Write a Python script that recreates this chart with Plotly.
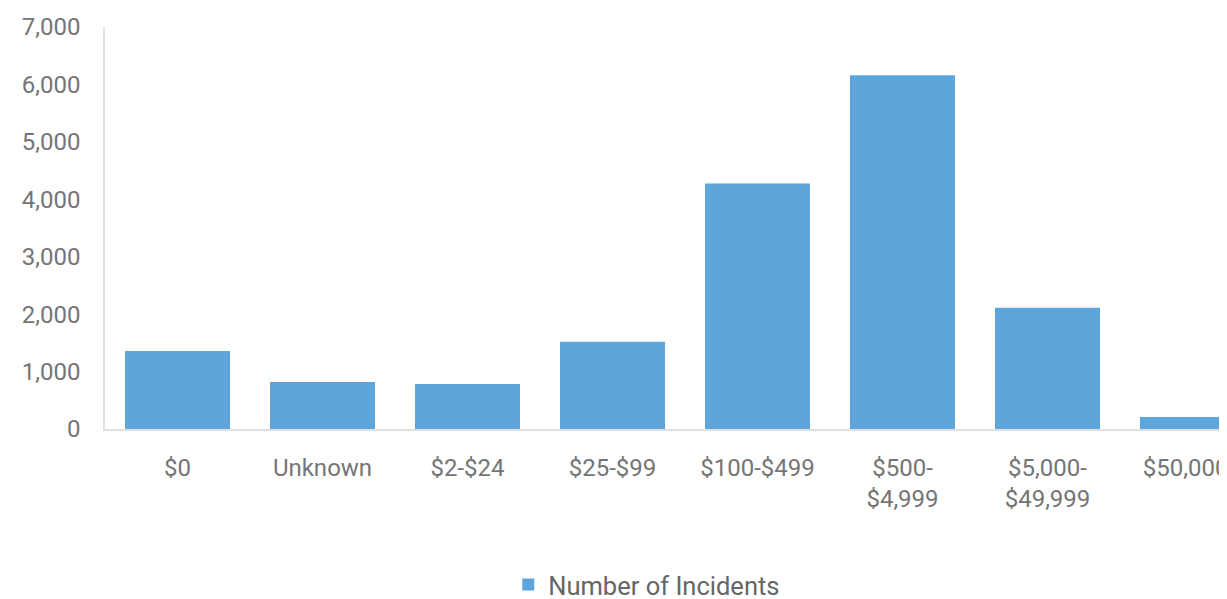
import plotly.graph_objects as go

categories = ["$0", "Unknown", "$2-$24", "$25-$99", "$100-$499",
              "$500-<br>$4,999", "$5,000-<br>$49,999", "$50,000+"]
incidents = [1360, 820, 785, 1520, 4275, 6160, 2110, 210]
series_name = "Number of Incidents"
y_ticks = [0, 1000, 2000, 3000, 4000, 5000, 6000, 7000]

fig = go.Figure()
fig.add_trace(go.Bar(
    x=categories, y=incidents, name=series_name,
    marker=dict(color="#5DA5DA", line=dict(width=0)),
    showlegend=True,
))

fig.update_layout(
    width=1219, height=591,
    margin=dict(l=97, r=0, t=19, b=170, autoexpand=False),
    paper_bgcolor="white", plot_bgcolor="white",
    font=dict(family="Roboto", size=24, color="#757575"),
    bargap=0.276,
    showlegend=True,
    legend=dict(orientation="h", xref="container", yref="container",
                x=0.524, xanchor="center", y=0.0237, yanchor="middle",
                font=dict(size=25.5, color="#666666")),
)
fig.update_xaxes(
    type="category", range=[-0.5, 7.238], automargin=False,
    showline=True, linecolor="#e0e0e0", linewidth=1.5,
    showgrid=False, ticks="", ticklabelstandoff=16,
    tickfont=dict(size=24, color="#757575"),
)
fig.update_yaxes(
    range=[0, 7000], tickvals=y_ticks, tickformat=",", automargin=False,
    showline=True, linecolor="#e0e0e0", linewidth=1.5,
    showgrid=False, zeroline=False, ticks="", ticklabelstandoff=18,
    tickfont=dict(size=24, color="#757575"),
)

fig.write_html("out.html")
